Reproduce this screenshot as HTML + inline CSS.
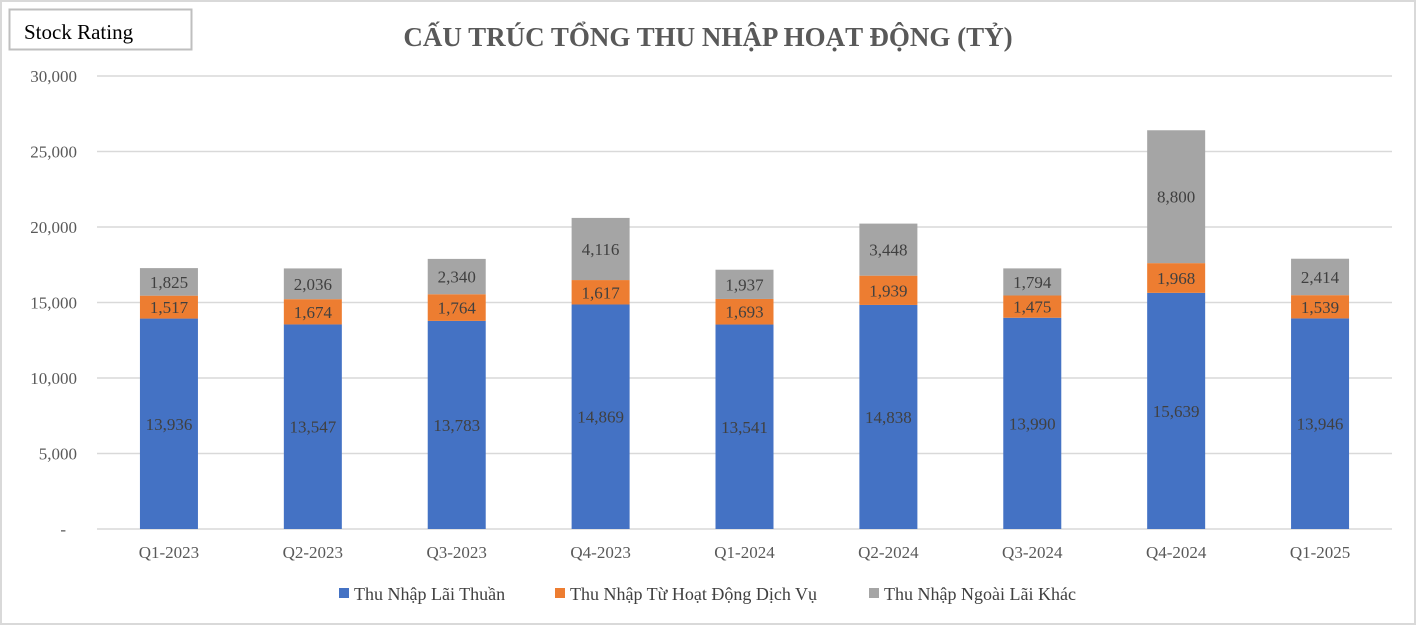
<!DOCTYPE html>
<html><head><meta charset="utf-8"><style>
html,body{margin:0;padding:0;background:#fff}
#wrap{position:relative;width:1416px;height:625px;overflow:hidden}
svg text{font-family:"Liberation Serif","Noto Serif CJK SC",serif}
</style></head><body>
<div id="wrap">
<svg id="chart" width="1416" height="625">
<rect x="1" y="1" width="1414" height="623" fill="#fff" stroke="#d9d9d9" stroke-width="2"/>
<rect x="9.5" y="9.5" width="182" height="40" fill="#fff" stroke="#bfbfbf" stroke-width="2"/>
<text x="24" y="39" font-size="21" fill="#000">Stock Rating</text>
<text x="708" y="46" font-size="27" font-weight="bold" fill="#595959" text-anchor="middle">CẤU TRÚC TỔNG THU NHẬP HOẠT ĐỘNG (TỶ)</text>
<g id="grid"></g><g id="bars"></g><g id="xlabels"></g>
<g>
<rect x="339" y="588" width="10" height="10" fill="#4472c4"/>
<text x="354" y="600" font-size="18" fill="#404040">Thu Nhập Lãi Thuần</text>
<rect x="555" y="588" width="10" height="10" fill="#ed7d31"/>
<text x="570" y="600" font-size="18" fill="#404040">Thu Nhập Từ Hoạt Động Dịch Vụ</text>
<rect x="869" y="588" width="10" height="10" fill="#a5a5a5"/>
<text x="884" y="600" font-size="18" fill="#404040">Thu Nhập Ngoài Lãi Khác</text>
</g>
</svg></div>
<script>
const categories=["Q1-2023","Q2-2023","Q3-2023","Q4-2023","Q1-2024","Q2-2024","Q3-2024","Q4-2024","Q1-2025"];
const netInterest=[13936,13547,13783,14869,13541,14838,13990,15639,13946];
const serviceIncome=[1517,1674,1764,1617,1693,1939,1475,1968,1539];
const otherIncome=[1825,2036,2340,4116,1937,3448,1794,8800,2414];
const yTicks=[0,5000,10000,15000,20000,25000,30000];
const yTickLabels=["-","5,000","10,000","15,000","20,000","25,000","30,000"];
const NS="http://www.w3.org/2000/svg";
const x0=97,x1=1392,yBase=529,yTop=76,yMax=30000;
const y=v=>yBase-(v/yMax)*(yBase-yTop);
const step=(x1-x0)/categories.length;
const xc=i=>x0+step*(i+0.5);
const bw=58;
function mk(tag,attrs,parent){const e=document.createElementNS(NS,tag);for(const k in attrs)e.setAttribute(k,attrs[k]);parent.appendChild(e);return e;}
const grid=document.getElementById('grid'),bars=document.getElementById('bars'),xl=document.getElementById('xlabels');
yTicks.forEach((t,i)=>{
 const l=mk('line',{x1:x0,x2:x1,y1:y(t),y2:y(t),stroke:'#d9d9d9','stroke-width':1.5},grid);
 
 
 const tx=mk('text',{x:i==0?66:77,y:y(t)+6,'font-size':17,fill:'#595959','text-anchor':'end'},grid);
 tx.textContent=yTickLabels[i];
 
 
});
const series=[[netInterest,'#4472c4','bar-net-interest'],[serviceIncome,'#ed7d31','bar-service'],[otherIncome,'#a5a5a5','bar-other']];
categories.forEach((c,i)=>{
 let acc=0;
 series.forEach(([arr,col,name])=>{
  const v=arr[i],top=y(acc+v),bot=y(acc);
  const r=mk('rect',{x:xc(i)-bw/2,y:top,width:bw,height:bot-top,fill:col},bars);
  
  
  const t=mk('text',{x:xc(i),y:(top+bot)/2+6,'font-size':17,fill:'#404040','text-anchor':'middle'},bars);
  t.textContent=v.toLocaleString('en-US');
  
  
  acc+=v;
 });
 const t=mk('text',{x:xc(i),y:558,'font-size':17,fill:'#595959','text-anchor':'middle'},xl);
 t.textContent=c;
 
 
});
</script>
</body></html>
